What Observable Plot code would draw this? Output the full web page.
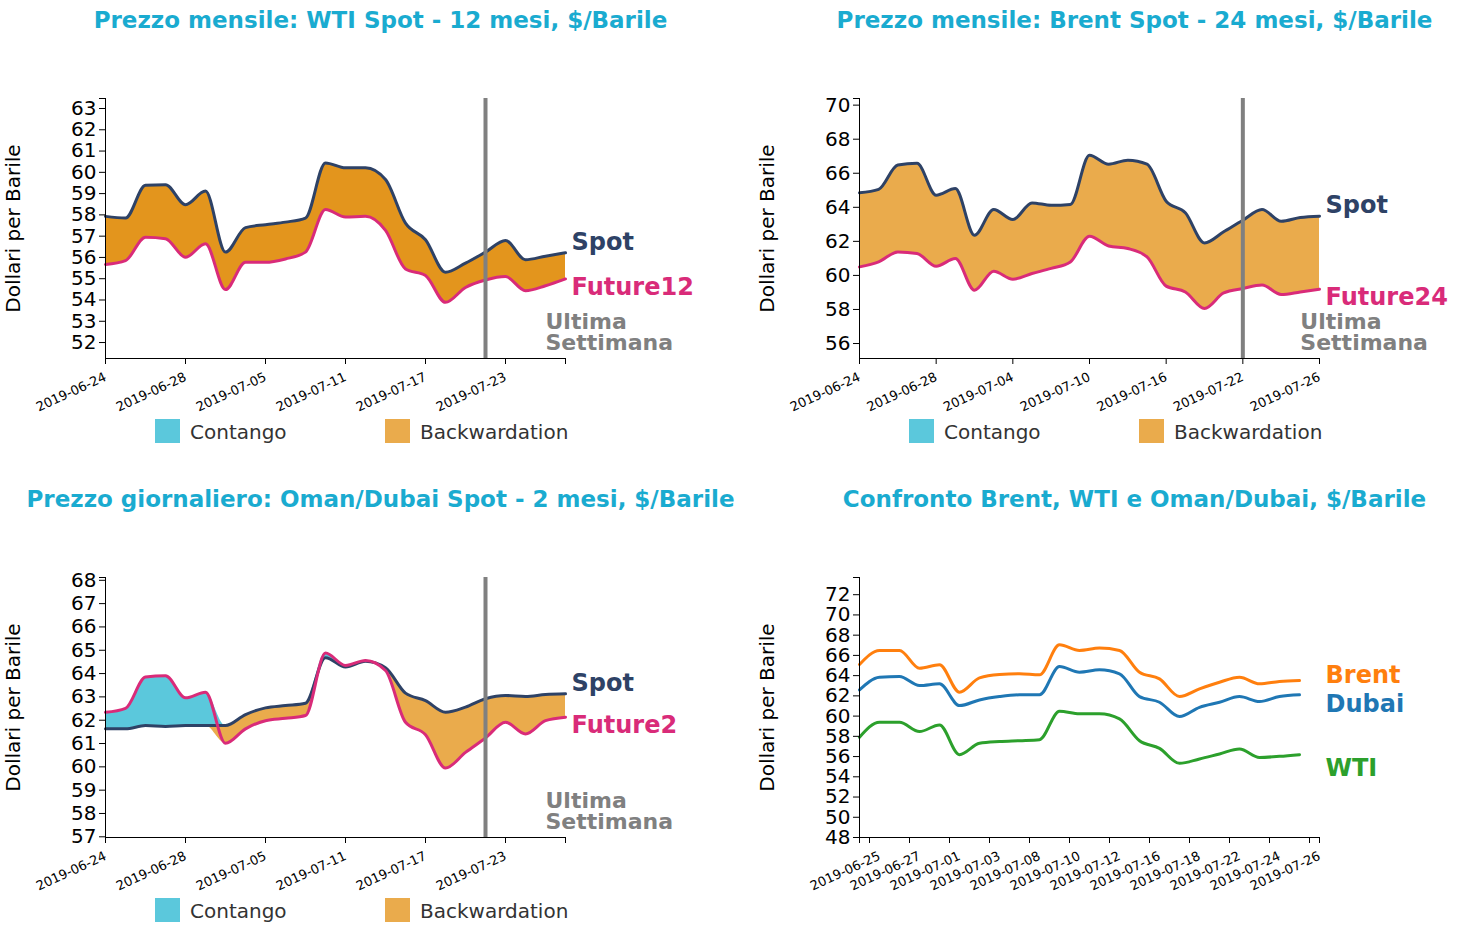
<!DOCTYPE html>
<html><head><meta charset="utf-8">
<script src="https://cdn.jsdelivr.net/npm/d3@7"></script>
<script src="https://cdn.jsdelivr.net/npm/@observablehq/plot@0.6"></script>
<style>
html,body{margin:0;padding:0;background:#fff;overflow:hidden}
#root{position:relative;width:1477px;height:940px;font-family:"DejaVu Sans",sans-serif}
.title{position:absolute;font-weight:bold;font-size:23px;color:#1aabd0;white-space:nowrap;transform:translateX(-50%);line-height:1}
.panel{position:absolute}
.leg{position:absolute;font-size:20px;color:#333;white-space:nowrap;line-height:1}
.sw{position:absolute;width:25px;height:24px}
</style></head><body><div id="root"></div>
<script>
// ---------- DATA ----------
const wtiDates = ["2019-06-24","2019-06-25","2019-06-26","2019-06-27","2019-06-28","2019-07-01","2019-07-02","2019-07-03","2019-07-05","2019-07-08","2019-07-09","2019-07-10","2019-07-11","2019-07-12","2019-07-15","2019-07-16","2019-07-17","2019-07-18","2019-07-19","2019-07-22","2019-07-23","2019-07-24","2019-07-25","2019-07-26"];
const wtiSpot = [57.93,57.85,59.39,59.42,58.48,59.12,56.25,57.40,57.54,57.66,57.85,60.44,60.21,60.21,59.66,57.61,56.83,55.30,55.73,56.25,56.80,55.89,56.06,56.22];
const wtiFuture12 = [55.67,55.85,56.95,56.88,56.01,56.64,54.49,55.77,55.77,55.93,56.25,58.25,57.90,57.93,57.27,55.46,55.15,53.89,54.59,54.94,55.10,54.44,54.67,54.99];
const wtiTicks = ["2019-06-24","2019-06-28","2019-07-05","2019-07-11","2019-07-17","2019-07-23"];

const brentDates = ["2019-06-24","2019-06-25","2019-06-26","2019-06-27","2019-06-28","2019-07-01","2019-07-02","2019-07-03","2019-07-04","2019-07-05","2019-07-08","2019-07-09","2019-07-10","2019-07-11","2019-07-12","2019-07-15","2019-07-16","2019-07-17","2019-07-18","2019-07-19","2019-07-22","2019-07-23","2019-07-24","2019-07-25","2019-07-26"];
const brentSpot = [64.85,65.05,66.48,66.58,64.71,65.10,62.36,63.87,63.28,64.26,64.12,64.17,67.06,66.53,66.77,66.53,64.36,63.68,61.91,62.56,63.24,63.87,63.18,63.40,63.48];
const brentFuture24 = [60.50,60.80,61.38,61.29,60.54,60.99,59.13,60.25,59.78,60.11,60.41,60.79,62.30,61.73,61.58,61.09,59.37,59.03,58.06,58.97,59.23,59.43,58.88,59.03,59.19];
const brentTicks = ["2019-06-24","2019-06-28","2019-07-04","2019-07-10","2019-07-16","2019-07-22","2019-07-26"];

const dubaiDates = wtiDates;
const dubaiSpot = [61.63,61.63,61.77,61.73,61.77,61.77,61.77,62.24,62.53,62.63,62.73,64.68,64.28,64.53,64.25,63.16,62.84,62.34,62.56,62.92,63.06,63.02,63.10,63.13];
const dubaiFuture2 = [62.34,62.51,63.85,63.91,62.96,63.20,61.01,61.63,61.98,62.08,62.20,64.88,64.35,64.56,64.13,61.91,61.38,59.95,60.62,61.24,61.91,61.41,61.98,62.13];
const dubaiTicks = wtiTicks;

const lastWeekDate = "2019-07-22";

const cmpDates = ["2019-06-25","2019-06-26","2019-06-27","2019-06-28","2019-07-01","2019-07-02","2019-07-03","2019-07-05","2019-07-08","2019-07-09","2019-07-10","2019-07-11","2019-07-12","2019-07-15","2019-07-16","2019-07-17","2019-07-18","2019-07-19","2019-07-22","2019-07-23","2019-07-24","2019-07-25","2019-07-26"];
const cmpBrent = [65.10,66.49,66.49,64.73,65.07,62.36,63.78,64.11,64.18,64.08,67.05,66.49,66.72,66.49,64.34,63.68,61.93,62.69,63.35,63.84,63.19,63.42,63.51];
const cmpDubai = [62.59,63.84,63.91,63.02,63.19,61.04,61.60,61.93,62.10,62.10,64.90,64.34,64.57,64.18,61.93,61.37,59.95,60.87,61.37,61.93,61.44,61.93,62.10];
const cmpWti = [57.90,59.39,59.39,58.47,59.13,56.19,57.31,57.48,57.57,57.67,60.48,60.22,60.22,59.72,57.57,56.81,55.33,55.76,56.26,56.75,55.92,56.02,56.19];
const cmpTicks = ["2019-06-25","2019-06-27","2019-07-01","2019-07-03","2019-07-08","2019-07-10","2019-07-12","2019-07-16","2019-07-18","2019-07-22","2019-07-24","2019-07-26"];

const titles = ["Prezzo mensile: WTI Spot - 12 mesi, $/Barile","Prezzo mensile: Brent Spot - 24 mesi, $/Barile","Prezzo giornaliero: Oman/Dubai Spot - 2 mesi, $/Barile","Confronto Brent, WTI e Oman/Dubai, $/Barile"];
const legendLabels = ["Contango","Backwardation"];

// ---------- STYLE ----------
const C = {spot:"#2e4266", fut:"#d92b79", contango:"#5bc8dc", back:"#eaab4c", backDark:"#e3951d", gray:"#808080",
  brent:"#ff7f0e", dubai:"#1f77b4", wti:"#2ca02c", title:"#1aabd0"};
const root = document.getElementById("root");
const W = 723, H = 400, ML = 105, MR = 158, MT = 58, MB = 82;
const FONT = "DejaVu Sans";

function addTitle(text, cx, baseline){
  const d = document.createElement("div");
  d.className = "title"; d.textContent = text;
  d.style.left = cx + "px"; d.style.top = (baseline - 19.5) + "px";
  root.appendChild(d);
}
function addLegend(x0, y0){
  const cols = [C.contango, C.back];
  const xs = [155, 385];
  legendLabels.forEach((lab, i) => {
    const s = document.createElement("div"); s.className = "sw";
    s.style.left = (x0 + xs[i]) + "px"; s.style.top = (y0 + 419) + "px"; s.style.background = cols[i];
    root.appendChild(s);
    const t = document.createElement("div"); t.className = "leg"; t.textContent = lab;
    t.style.left = (x0 + xs[i] + 35) + "px"; t.style.top = (y0 + 438 - 16.4) + "px";
    root.appendChild(t);
  });
}
function place(svg, x0, y0){
  const w = document.createElement("div"); w.className = "panel";
  w.style.left = x0 + "px"; w.style.top = (y0 + 40) + "px";
  w.appendChild(svg); root.appendChild(w);
}
function yLabel(){
  return Plot.text(["Dollari per Barile"], {frameAnchor:"left", dx:-92, rotate:-90, textAnchor:"middle", lineAnchor:"middle", fontSize:20, text:d=>d, fill:"black"});
}
function range(a,b,s){const r=[];for(let v=a;v<=b+1e-9;v+=s)r.push(v);return r;}
// x axis: labels (rotated, offset) and tick marks as separate axis marks
function xAxis(tickVals, fmt, outer, dx){
  return [
    Plot.axisX({ticks:tickVals, tickFormat:fmt, tickRotate:-25, fontSize:13, tickSize:6, stroke:"none", dx:dx, dy:5, label:null}),
    Plot.axisX({ticks:[...tickVals, ...outer], tickSize:6, fill:"none", label:null})
  ];
}

function spreadPanel({x0, y0, dates, spot, fut, futName, yDomain, yTicks, ticks, backFill}){
  const n = dates.length;
  const rows = dates.map((d,i)=>({i, spot:spot[i], fut:fut[i]}));
  const lw = dates.indexOf(lastWeekDate);
  const svg = Plot.plot({
    width:W, height:H, marginLeft:ML, marginRight:MR, marginTop:MT, marginBottom:MB,
    x:{domain:[0,n-1], label:null},
    y:{domain:yDomain, label:null},
    style:{fontFamily:FONT, overflow:"visible", background:"transparent", color:"black"},
    marks:[
      Plot.areaY(rows,{x:"i", y1:"spot", y2:d=>Math.max(d.spot,d.fut), fill:C.contango, curve:"monotone-x"}),
      Plot.areaY(rows,{x:"i", y1:d=>Math.min(d.spot,d.fut), y2:"spot", fill:backFill, curve:"monotone-x"}),
      Plot.line(rows,{x:"i", y:"spot", stroke:C.spot, strokeWidth:3, curve:"monotone-x"}),
      Plot.line(rows,{x:"i", y:"fut", stroke:C.fut, strokeWidth:3, curve:"monotone-x"}),
      Plot.ruleX([lw], {stroke:C.gray, strokeWidth:4}),
      Plot.frame({anchor:"left", stroke:"black"}),
      Plot.frame({anchor:"bottom", stroke:"black"}),
      Plot.axisY({ticks:yTicks, tickSize:6, fontSize:20, tickFormat:d=>String(d), label:null}),
      Plot.axisY({ticks:[yDomain[1]], tickSize:6, tickFormat:()=>"", label:null}),
      ...xAxis(ticks.map(t=>dates.indexOf(t)), i=>dates[i], [n-1], 0),
      Plot.text([{x:n-1, y:spot[n-1], t:"Spot"}], {x:"x", y:"y", text:"t", dx:6, dy:-3, textAnchor:"start", lineAnchor:"bottom", fontSize:24, fontWeight:"bold", fill:C.spot}),
      Plot.text([{x:n-1, y:fut[n-1], t:futName}], {x:"x", y:"y", text:"t", dx:6, dy:16, textAnchor:"start", lineAnchor:"bottom", fontSize:24, fontWeight:"bold", fill:C.fut}),
      Plot.text(["Ultima\nSettimana"], {x:()=>n-2, frameAnchor:"bottom", text:d=>d, dy:-9, textAnchor:"start", lineAnchor:"bottom", lineHeight:0.91, fontSize:22, fontWeight:"bold", fill:C.gray}),
      yLabel()
    ]
  });
  place(svg, x0, y0);
}

// Panel positions
const colX = [0, 754], rowY = [0, 479];

spreadPanel({x0:colX[0], y0:rowY[0], dates:wtiDates, spot:wtiSpot, fut:wtiFuture12, futName:"Future12",
  yDomain:[51.25,63.47], yTicks:range(52,63,1), ticks:wtiTicks, backFill:C.backDark});
spreadPanel({x0:colX[1], y0:rowY[0], dates:brentDates, spot:brentSpot, fut:brentFuture24, futName:"Future24",
  yDomain:[55.12,70.39], yTicks:range(56,70,2), ticks:brentTicks, backFill:C.back});
spreadPanel({x0:colX[0], y0:rowY[1], dates:dubaiDates, spot:dubaiSpot, fut:dubaiFuture2, futName:"Future2",
  yDomain:[56.97,68.12], yTicks:range(57,68,1), ticks:dubaiTicks, backFill:C.back});

// Comparison panel (band-style: lines at band start, ticks at band centre)
(function(){
  const n = cmpDates.length;
  const series = [
    {name:"Brent", vals:cmpBrent, color:C.brent, dy:2},
    {name:"Dubai", vals:cmpDubai, color:C.dubai, dy:17},
    {name:"WTI", vals:cmpWti, color:C.wti, dy:21}
  ];
  const rows = series.flatMap(s => s.vals.map((v,i)=>({i, v, name:s.name})));
  const yDomain = [48, 73.7];
  const marks = [];
  series.forEach(s => {
    marks.push(Plot.line(rows.filter(r=>r.name===s.name), {x:"i", y:"v", stroke:s.color, strokeWidth:3, curve:"monotone-x"}));
  });
  series.forEach(s => {
    marks.push(Plot.text([{x:n, y:s.vals[n-1], t:s.name}], {x:"x", y:"y", text:"t", dx:6, dy:s.dy, textAnchor:"start", lineAnchor:"bottom", fontSize:24, fontWeight:"bold", fill:s.color}));
  });
  const svg = Plot.plot({
    width:W, height:H, marginLeft:ML, marginRight:MR, marginTop:MT, marginBottom:MB,
    x:{domain:[0,n], label:null},
    y:{domain:yDomain, label:null},
    style:{fontFamily:FONT, overflow:"visible", background:"transparent", color:"black"},
    marks:[
      ...marks,
      Plot.frame({anchor:"left", stroke:"black"}),
      Plot.frame({anchor:"bottom", stroke:"black"}),
      Plot.axisY({ticks:range(48,72,2), tickSize:6, fontSize:20, tickFormat:d=>String(d), label:null}),
      Plot.axisY({ticks:[yDomain[1]], tickSize:6, tickFormat:()=>"", label:null}),
      ...xAxis(cmpTicks.map(t=>cmpDates.indexOf(t)+0.5), i=>cmpDates[Math.round(i-0.5)], [0,n], 10),
      yLabel()
    ]
  });
  place(svg, colX[1], rowY[1]);
})();

titles.forEach((t,k)=>addTitle(t, colX[k%2] + 380.5, rowY[Math.floor(k/2)] + 28));
addLegend(colX[0], rowY[0]);
addLegend(colX[1], rowY[0]);
addLegend(colX[0], rowY[1]);
</script></body></html>
